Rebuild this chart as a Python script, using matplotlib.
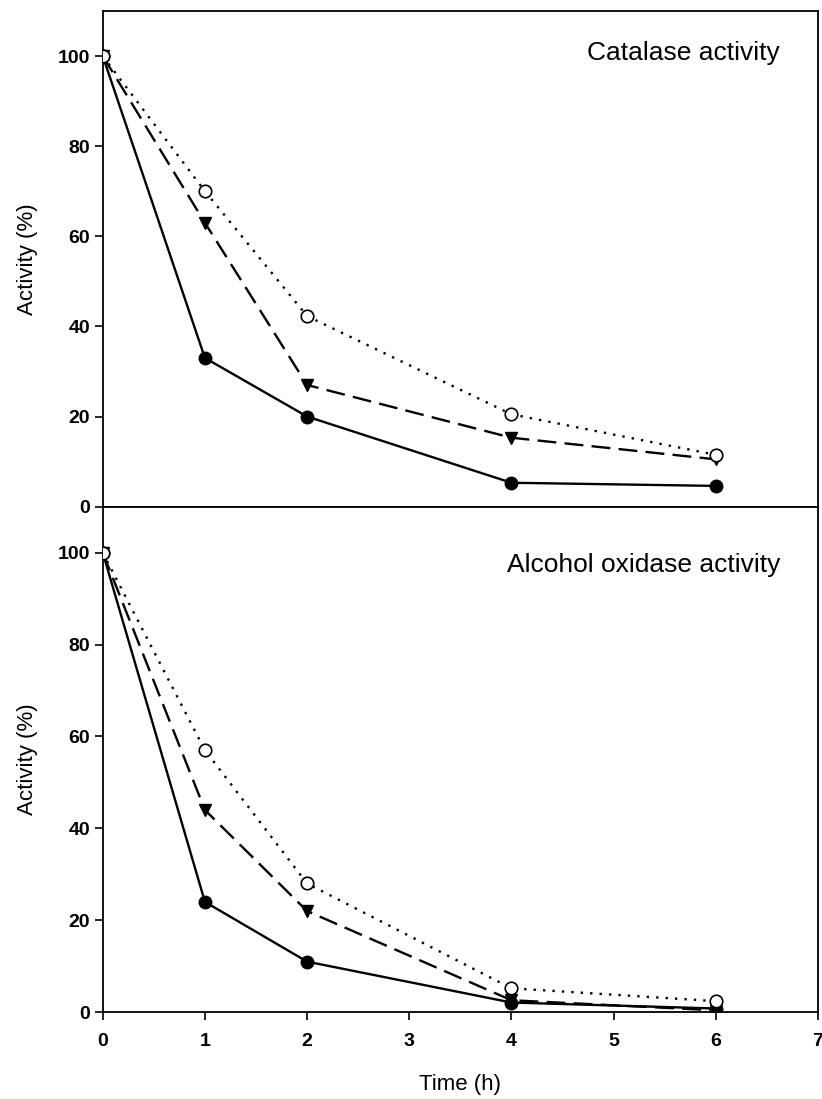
import matplotlib
matplotlib.use("Agg")
import matplotlib.pyplot as plt

plt.rcParams["font.family"] = ["Liberation Sans", "DejaVu Sans"]

time_h = [0, 1, 2, 4, 6]

# Catalase activity (%)
cat_filled = [100, 33, 20, 5.3, 4.6]
cat_triangle = [100, 63, 27, 15.3, 10.5]
cat_open = [100, 70, 42.3, 20.5, 11.5]

# Alcohol oxidase activity (%)
ao_filled = [100, 24, 11, 2.1, 0.8]
ao_triangle = [100, 44, 22, 2.6, 0.4]
ao_open = [100, 57, 28, 5.2, 2.4]

panel_titles = ["Catalase activity", "Alcohol oxidase activity"]
title_y = [0.915, 0.885]
yticks = [0, 20, 40, 60, 80, 100]
xticks = [0, 1, 2, 3, 4, 5, 6, 7]

fig = plt.figure(figsize=(8.22, 10.99), dpi=100)
ax_top = fig.add_axes([0.125, 0.539, 0.870, 0.451])
ax_bot = fig.add_axes([0.125, 0.079, 0.870, 0.460], sharex=ax_top)

datasets = [(cat_filled, cat_triangle, cat_open), (ao_filled, ao_triangle, ao_open)]

for ax, (filled, tri, opn), title, ty in zip([ax_top, ax_bot], datasets, panel_titles, title_y):
    ax.plot(time_h, filled, color="black", lw=1.7, ls="-", marker="o", ms=9,
            mfc="black", mec="black", zorder=3)
    ax.plot(time_h, tri, color="black", lw=1.7, ls=(0, (8, 3.5)), marker="v", ms=9,
            mfc="black", mec="black", zorder=4)
    ax.plot(time_h, opn, color="black", lw=1.7, ls=(0, (1, 3)), marker="o", ms=9,
            mfc="white", mec="black", mew=1.2, zorder=5)
    ax.set_ylim(0, 110)
    ax.set_yticks(yticks)
    ax.set_ylabel("Activity (%)", fontsize=16, labelpad=14)
    ax.text(0.947, ty, title, transform=ax.transAxes, ha="right", va="center",
            fontsize=19)
    ax.tick_params(axis="both", direction="out", length=6, width=1.2, labelsize=14)
    ax.tick_params(axis="y", pad=3)
    for lab in ax.get_yticklabels():
        lab.set_fontweight("bold")
    for sp in ax.spines.values():
        sp.set_linewidth(1.3)

ax_top.set_xlim(0, 7)
ax_top.set_xticks(xticks)
ax_top.tick_params(axis="x", bottom=False, labelbottom=False)
ax_bot.tick_params(axis="x", pad=9)
ax_bot.set_xlabel("Time (h)", fontsize=16, labelpad=17)
for lab in ax_bot.get_xticklabels():
    lab.set_fontweight("bold")

fig.savefig("out.png", dpi=100)
